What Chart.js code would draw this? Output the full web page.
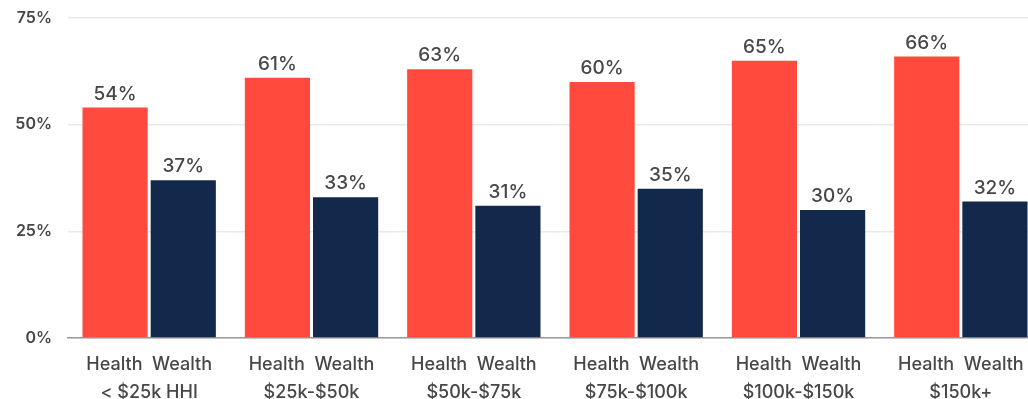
<!DOCTYPE html>
<html>
<head>
<meta charset="utf-8">
<script src="https://cdn.jsdelivr.net/npm/chart.js@4.4.1/dist/chart.umd.min.js"></script>
<style>
  html, body { margin: 0; padding: 0; background: #ffffff; overflow: hidden; }
  #wrap { width: 1042px; height: 399px; position: relative; }
</style>
</head>
<body>
<div id="wrap"><canvas id="c"></canvas></div>
<script>
const categories = ["< $25k HHI", "$25k-$50k", "$50k-$75k", "$75k-$100k", "$100k-$150k", "$150k+"];
const subLabel = "Health  Wealth";
const healthValues = [54, 61, 63, 60, 65, 66];
const wealthValues = [37, 33, 31, 35, 30, 32];
const yTicks = [0, 25, 50, 75];

const FONT = "Inter, 'Open Sans', 'DejaVu Sans', sans-serif";
const TEXT = "#474747";

const valueLabels = {
  id: 'valueLabels',
  afterDatasetsDraw(chart) {
    const ctx = chart.ctx;
    ctx.save();
    ctx.font = "500 19px " + FONT;
    ctx.fillStyle = TEXT;
    ctx.textAlign = 'center';
    ctx.textBaseline = 'bottom';
    chart.data.datasets.forEach((ds, di) => {
      const meta = chart.getDatasetMeta(di);
      meta.data.forEach((bar, i) => {
        ctx.fillText(ds.data[i] + '%', bar.x, bar.y - 4);
      });
    });
    ctx.restore();
  }
};

new Chart(document.getElementById('c'), {
  type: 'bar',
  data: {
    labels: categories.map(c => [subLabel, c]),
    datasets: [
      { label: 'Health', data: healthValues, backgroundColor: '#FF4A3D', categoryPercentage: 0.84, barPercentage: 0.956 },
      { label: 'Wealth', data: wealthValues, backgroundColor: '#13294B', categoryPercentage: 0.84, barPercentage: 0.956 }
    ]
  },
  options: {
    responsive: true,
    maintainAspectRatio: false,
    animation: false,
    layout: { padding: { top: 18, right: 0, left: 0, bottom: 0 } },
    plugins: { legend: { display: false }, tooltip: { enabled: false } },
    scales: {
      x: {
        grid: { display: false, drawTicks: false },
        border: { display: true, color: '#9a9a9a', width: 1.5 },
        ticks: {
          color: TEXT,
          font: { family: FONT, size: 18, weight: '500', lineHeight: 1.55 },
          padding: 13,
          maxRotation: 0,
          autoSkip: false
        },
        afterFit(scale) { scale.height = 61; scale.paddingLeft = 0; scale.paddingRight = 0; }
      },
      y: {
        min: 0, max: 75,
        afterBuildTicks(scale) { scale.ticks = yTicks.map(v => ({ value: v })); },
        grid: { color: '#e9e9e9', lineWidth: 1.5, drawTicks: false },
        border: { display: false },
        ticks: {
          color: TEXT,
          font: { family: FONT, size: 16, weight: '600' },
          padding: 16,
          callback: v => v + '%'
        },
        afterFit(scale) { scale.width = 68; scale.paddingTop = 0; scale.paddingBottom = 0; }
      }
    }
  },
  plugins: [valueLabels]
});
</script>
</body>
</html>
